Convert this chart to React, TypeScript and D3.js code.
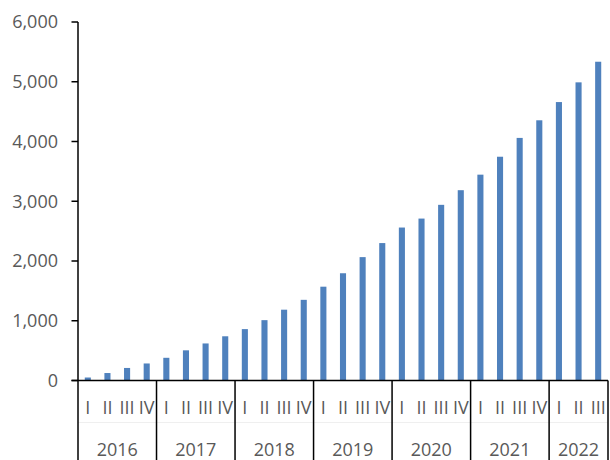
import React from 'react'
import * as d3 from 'd3'

// quarterly values, 2016 Q1 .. 2022 Q3
const years = ['2016', '2017', '2018', '2019', '2020', '2021', '2022']
const quarterNames = ['I', 'II', 'III', 'IV']
const values = [
  50, 125, 210, 285,
  380, 505, 620, 740,
  860, 1010, 1185, 1350,
  1570, 1795, 2065, 2300,
  2560, 2710, 2940, 3185,
  3445, 3745, 4060, 4355,
  4660, 4990, 5335,
]
const yTicks = [0, 1000, 2000, 3000, 4000, 5000, 6000]

const W = 610
const H = 460
const font = "'Open Sans', sans-serif"
const textColor = '#595959'

export default function App() {
  const cats = values.map((_, i) => `${years[Math.floor(i / 4)]}-${quarterNames[i % 4]}`)
  const x = d3.scaleBand<string>().domain(cats).range([78, 608]).paddingInner(0.69).paddingOuter(0.345)
  const y = d3.scaleLinear().domain([0, 6000]).range([380.5, 22])
  const step = x.step()
  const x0 = x.range()[0]
  const fmt = d3.format(',')

  // year groups: start index, count
  const groups = years.map((yr, gi) => {
    const start = gi * 4
    const count = Math.min(4, values.length - start)
    return { yr, start, count }
  })
  const xAt = (i: number) => x0 + i * step

  return (
    <svg width={W} height={H} style={{ position: 'absolute', left: 0, top: 0, background: '#fff' }}>
      {/* bars */}
      {values.map((v, i) => (
        <rect key={i} x={x(cats[i])} y={y(v)} width={x.bandwidth()} height={y(0) - y(v)} fill="#4F81BD" />
      ))}

      {/* faint divider between label rows */}
      <line x1={x0} x2={xAt(values.length)} y1={422.5} y2={422.5} stroke="#efefef" strokeWidth={1} />

      {/* y axis */}
      <line x1={78} x2={78} y1={y(6000)} y2={y(0)} stroke="#000" strokeWidth={1.5} />
      {yTicks.map(t => (
        <g key={t}>
          <line x1={71.5} x2={78} y1={y(t)} y2={y(t)} stroke="#000" strokeWidth={1.5} />
          <text x={58} y={y(t)} dy="0.36em" textAnchor="end" fontFamily={font} fontSize={18} fill={textColor}>
            {fmt(t)}
          </text>
        </g>
      ))}

      {/* x axis */}
      <line x1={71.5} x2={xAt(values.length)} y1={y(0)} y2={y(0)} stroke="#000" strokeWidth={1.5} />
      {d3.range(0, values.length + 1, 4).concat([values.length]).map((i, k) => (
        <line key={k} x1={xAt(i)} x2={xAt(i)} y1={y(0)} y2={H} stroke="#000" strokeWidth={1.5} />
      ))}

      {/* quarter labels */}
      {values.map((_, i) => (
        <text key={i} x={xAt(i) + step / 2} y={408} dy="0.36em" textAnchor="middle"
          fontFamily={font} fontSize={18} fill={textColor}>
          {quarterNames[i % 4]}
        </text>
      ))}

      {/* year labels */}
      {groups.map(g => (
        <text key={g.yr} x={xAt(g.start) + (g.count * step) / 2} y={450} dy="0.36em" textAnchor="middle"
          fontFamily={font} fontSize={18} fill={textColor}>
          {g.yr}
        </text>
      ))}
    </svg>
  )
}
